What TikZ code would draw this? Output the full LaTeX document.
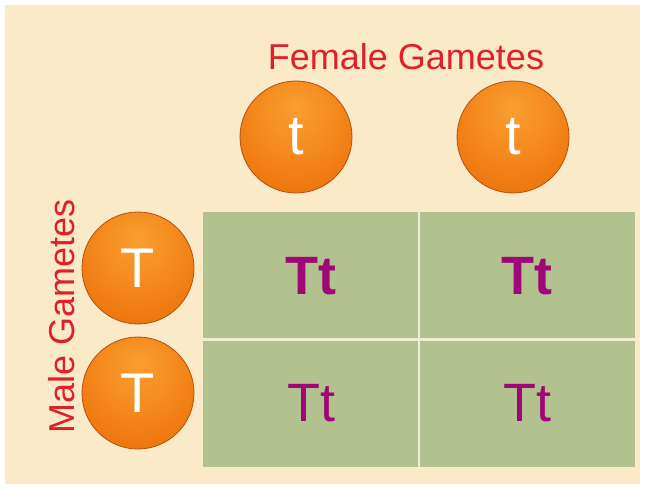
\documentclass[tikz,border=0pt]{standalone}
\usepackage{fontspec}
\setmainfont{Liberation Sans}
\usetikzlibrary{positioning}

\definecolor{paper}{RGB}{251,234,200}
\definecolor{cellgreen}{RGB}{178,194,142}
\definecolor{cellline}{RGB}{240,238,214}
\definecolor{labelred}{RGB}{222,32,42}
\definecolor{offspring}{RGB}{158,8,118}
\definecolor{gamlight}{RGB}{250,160,48}
\definecolor{gammid}{RGB}{240,124,18}
\definecolor{gamdark}{RGB}{214,92,10}
\definecolor{gamrim}{RGB}{176,82,18}

\pgfdeclareradialshading{gamete}{\pgfpoint{0bp}{14bp}}{%
  color(0bp)=(gamlight); color(28bp)=(gammid); color(52bp)=(gamdark); color(66bp)=(gamrim)}

\newcommand*{\cellw}{216}
\newcommand*{\cellh}{127}

\begin{document}
\begin{tikzpicture}
[
	x=1pt,y=-1pt,
	gamete/.style={circle,shading=gamete,draw=gamrim,line width=0.8pt,
		minimum size=112pt,inner sep=0pt,text=white,font=\fontsize{56}{60}\selectfont},
	cell/.style={rectangle,fill=cellgreen,minimum width=\cellw pt,minimum height=\cellh pt,
		inner sep=0pt,outer sep=0pt,text=offspring,font=\fontsize{54}{58}\selectfont},
	sexlabel/.style={text=labelred,inner sep=0pt,font=\fontsize{36}{40}\selectfont}
]

	% page and paper
	\useasboundingbox (0,0) rectangle (648,489);
	\fill[white] (0,0) rectangle (648,489);
	\fill[paper] (5,5) rectangle (640,484);

	% punnett square
	\node[cell] (c11) at (311,276) {\bfseries Tt};
	\node[cell,right=0pt of c11] (c12) {\bfseries Tt};
	\node[cell,below=0pt of c11] (c21) {Tt};
	\node[cell,right=0pt of c21] (c22) {Tt};

	\draw[cellline,line width=2.5pt] (c11.north east) -- (c21.south east);
	\draw[cellline,line width=2.5pt] (c11.south west) -- (c12.south east);

	% gametes
	\node[gamete] (f1) at (296,137) {t};
	\node[gamete] (f2) at (513,137) {t};
	\node[gamete] (m1) at (138,268) {T};
	\node[gamete] (m2) at (138,393) {T};

	\node[sexlabel] (female) at (406,57) {Female Gametes};
	\node[sexlabel,rotate=90] (male) at (62,316) {Male Gametes};

\end{tikzpicture}
\end{document}
